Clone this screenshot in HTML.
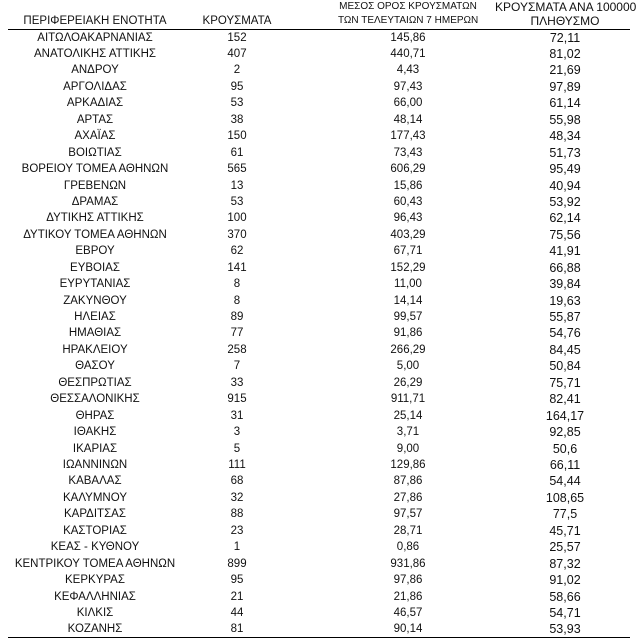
<!DOCTYPE html><html><head><meta charset="utf-8"><style>
body{margin:0;background:#fff;width:638px;height:641px;position:relative;overflow:hidden;font-family:"Liberation Sans","DejaVu Sans",sans-serif;color:#111;}
.r{position:absolute;left:0;width:638px;height:17px;line-height:17px;font-size:11.5px}
.r span,.h{position:absolute;text-align:center;white-space:nowrap}
.c1{left:0;width:190px}.c2{left:187px;width:100px}.c3{left:338px;width:140px}.c4{left:495px;width:140px;font-size:12.5px}
.h{font-size:11.5px;line-height:14px}
.line{position:absolute;left:8px;width:622px;height:1px;background:#000}
</style></head><body>
<div class="h c1" style="top:14px">ΠΕΡΙΦΕΡΕΙΑΚΗ ΕΝΟΤΗΤΑ</div>
<div class="h c2" style="top:14px">ΚΡΟΥΣΜΑΤΑ</div>
<div class="h c3" style="top:0px;font-size:10px">ΜΕΣΟΣ ΟΡΟΣ ΚΡΟΥΣΜΑΤΩΝ<br>ΤΩΝ ΤΕΛΕΥΤΑΙΩΝ 7 ΗΜΕΡΩΝ</div>
<div class="h c4" style="top:0px;font-size:12px">ΚΡΟΥΣΜΑΤΑ ΑΝΑ 100000<br>ΠΛΗΘΥΣΜΟ</div>
<div class="line" style="top:29px"></div>
<div class="line" style="top:637px"></div>
<div class="r" style="top:29.5px"><span class="c1">ΑΙΤΩΛΟΑΚΑΡΝΑΝΙΑΣ</span><span class="c2">152</span><span class="c3">145,86</span><span class="c4">72,11</span></div>
<div class="r" style="top:45.9px"><span class="c1">ΑΝΑΤΟΛΙΚΗΣ ΑΤΤΙΚΗΣ</span><span class="c2">407</span><span class="c3">440,71</span><span class="c4">81,02</span></div>
<div class="r" style="top:62.4px"><span class="c1">ΑΝΔΡΟΥ</span><span class="c2">2</span><span class="c3">4,43</span><span class="c4">21,69</span></div>
<div class="r" style="top:78.8px"><span class="c1">ΑΡΓΟΛΙΔΑΣ</span><span class="c2">95</span><span class="c3">97,43</span><span class="c4">97,89</span></div>
<div class="r" style="top:95.3px"><span class="c1">ΑΡΚΑΔΙΑΣ</span><span class="c2">53</span><span class="c3">66,00</span><span class="c4">61,14</span></div>
<div class="r" style="top:111.7px"><span class="c1">ΑΡΤΑΣ</span><span class="c2">38</span><span class="c3">48,14</span><span class="c4">55,98</span></div>
<div class="r" style="top:128.1px"><span class="c1">ΑΧΑΪΑΣ</span><span class="c2">150</span><span class="c3">177,43</span><span class="c4">48,34</span></div>
<div class="r" style="top:144.6px"><span class="c1">ΒΟΙΩΤΙΑΣ</span><span class="c2">61</span><span class="c3">73,43</span><span class="c4">51,73</span></div>
<div class="r" style="top:161.0px"><span class="c1">ΒΟΡΕΙΟΥ ΤΟΜΕΑ ΑΘΗΝΩΝ</span><span class="c2">565</span><span class="c3">606,29</span><span class="c4">95,49</span></div>
<div class="r" style="top:177.5px"><span class="c1">ΓΡΕΒΕΝΩΝ</span><span class="c2">13</span><span class="c3">15,86</span><span class="c4">40,94</span></div>
<div class="r" style="top:193.9px"><span class="c1">ΔΡΑΜΑΣ</span><span class="c2">53</span><span class="c3">60,43</span><span class="c4">53,92</span></div>
<div class="r" style="top:210.3px"><span class="c1">ΔΥΤΙΚΗΣ ΑΤΤΙΚΗΣ</span><span class="c2">100</span><span class="c3">96,43</span><span class="c4">62,14</span></div>
<div class="r" style="top:226.8px"><span class="c1">ΔΥΤΙΚΟΥ ΤΟΜΕΑ ΑΘΗΝΩΝ</span><span class="c2">370</span><span class="c3">403,29</span><span class="c4">75,56</span></div>
<div class="r" style="top:243.2px"><span class="c1">ΕΒΡΟΥ</span><span class="c2">62</span><span class="c3">67,71</span><span class="c4">41,91</span></div>
<div class="r" style="top:259.7px"><span class="c1">ΕΥΒΟΙΑΣ</span><span class="c2">141</span><span class="c3">152,29</span><span class="c4">66,88</span></div>
<div class="r" style="top:276.1px"><span class="c1">ΕΥΡΥΤΑΝΙΑΣ</span><span class="c2">8</span><span class="c3">11,00</span><span class="c4">39,84</span></div>
<div class="r" style="top:292.5px"><span class="c1">ΖΑΚΥΝΘΟΥ</span><span class="c2">8</span><span class="c3">14,14</span><span class="c4">19,63</span></div>
<div class="r" style="top:309.0px"><span class="c1">ΗΛΕΙΑΣ</span><span class="c2">89</span><span class="c3">99,57</span><span class="c4">55,87</span></div>
<div class="r" style="top:325.4px"><span class="c1">ΗΜΑΘΙΑΣ</span><span class="c2">77</span><span class="c3">91,86</span><span class="c4">54,76</span></div>
<div class="r" style="top:341.9px"><span class="c1">ΗΡΑΚΛΕΙΟΥ</span><span class="c2">258</span><span class="c3">266,29</span><span class="c4">84,45</span></div>
<div class="r" style="top:358.3px"><span class="c1">ΘΑΣΟΥ</span><span class="c2">7</span><span class="c3">5,00</span><span class="c4">50,84</span></div>
<div class="r" style="top:374.7px"><span class="c1">ΘΕΣΠΡΩΤΙΑΣ</span><span class="c2">33</span><span class="c3">26,29</span><span class="c4">75,71</span></div>
<div class="r" style="top:391.2px"><span class="c1">ΘΕΣΣΑΛΟΝΙΚΗΣ</span><span class="c2">915</span><span class="c3">911,71</span><span class="c4">82,41</span></div>
<div class="r" style="top:407.6px"><span class="c1">ΘΗΡΑΣ</span><span class="c2">31</span><span class="c3">25,14</span><span class="c4">164,17</span></div>
<div class="r" style="top:424.1px"><span class="c1">ΙΘΑΚΗΣ</span><span class="c2">3</span><span class="c3">3,71</span><span class="c4">92,85</span></div>
<div class="r" style="top:440.5px"><span class="c1">ΙΚΑΡΙΑΣ</span><span class="c2">5</span><span class="c3">9,00</span><span class="c4">50,6</span></div>
<div class="r" style="top:456.9px"><span class="c1">ΙΩΑΝΝΙΝΩΝ</span><span class="c2">111</span><span class="c3">129,86</span><span class="c4">66,11</span></div>
<div class="r" style="top:473.4px"><span class="c1">ΚΑΒΑΛΑΣ</span><span class="c2">68</span><span class="c3">87,86</span><span class="c4">54,44</span></div>
<div class="r" style="top:489.8px"><span class="c1">ΚΑΛΥΜΝΟΥ</span><span class="c2">32</span><span class="c3">27,86</span><span class="c4">108,65</span></div>
<div class="r" style="top:506.3px"><span class="c1">ΚΑΡΔΙΤΣΑΣ</span><span class="c2">88</span><span class="c3">97,57</span><span class="c4">77,5</span></div>
<div class="r" style="top:522.7px"><span class="c1">ΚΑΣΤΟΡΙΑΣ</span><span class="c2">23</span><span class="c3">28,71</span><span class="c4">45,71</span></div>
<div class="r" style="top:539.1px"><span class="c1">ΚΕΑΣ - ΚΥΘΝΟΥ</span><span class="c2">1</span><span class="c3">0,86</span><span class="c4">25,57</span></div>
<div class="r" style="top:555.6px"><span class="c1">ΚΕΝΤΡΙΚΟΥ ΤΟΜΕΑ ΑΘΗΝΩΝ</span><span class="c2">899</span><span class="c3">931,86</span><span class="c4">87,32</span></div>
<div class="r" style="top:572.0px"><span class="c1">ΚΕΡΚΥΡΑΣ</span><span class="c2">95</span><span class="c3">97,86</span><span class="c4">91,02</span></div>
<div class="r" style="top:588.5px"><span class="c1">ΚΕΦΑΛΛΗΝΙΑΣ</span><span class="c2">21</span><span class="c3">21,86</span><span class="c4">58,66</span></div>
<div class="r" style="top:604.9px"><span class="c1">ΚΙΛΚΙΣ</span><span class="c2">44</span><span class="c3">46,57</span><span class="c4">54,71</span></div>
<div class="r" style="top:621.3px"><span class="c1">ΚΟΖΑΝΗΣ</span><span class="c2">81</span><span class="c3">90,14</span><span class="c4">53,93</span></div>
</body></html>
